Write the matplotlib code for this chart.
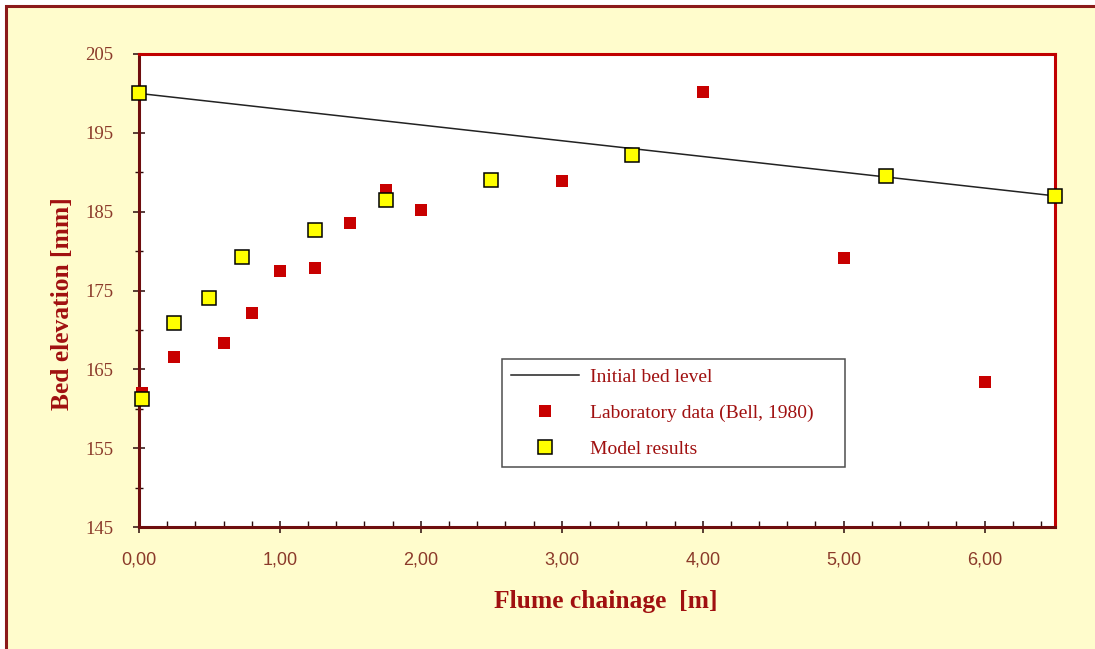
import matplotlib
matplotlib.use("Agg")
import matplotlib.pyplot as plt
from matplotlib.patches import Rectangle
from matplotlib.ticker import MultipleLocator, FixedLocator, FuncFormatter

# initial bed level (straight line along the flume)
bed_x = [0.0, 1.75, 3.5, 5.3, 6.5]
bed_y = [200.0, 196.5, 193.0, 189.4, 187.0]

# laboratory data (Bell, 1980)
lab_x = [0.02, 0.25, 0.6, 0.8, 1.0, 1.25, 1.5, 1.75, 2.0, 3.0, 4.0, 5.0, 6.0]
lab_y = [162.0, 166.6, 168.3, 172.1, 177.5, 177.9, 183.6, 187.7, 185.2, 188.9, 200.2, 179.1, 163.4]

# model results
mod_x = [0.0, 0.02, 0.25, 0.5, 0.73, 1.25, 1.75, 2.5, 3.5, 5.3, 6.5]
mod_y = [200.0, 161.3, 170.9, 174.0, 179.2, 182.7, 186.5, 189.0, 192.2, 189.5, 187.0]

y_ticks = [145, 155, 165, 175, 185, 195, 205]
y_minor = [150, 160, 170, 180, 190, 200]

red_txt = "#A01010"
tick_col = "#8B3A2A"
serif = ["Liberation Serif", "DejaVu Serif"]

fig = plt.figure(figsize=(10.95, 6.49), dpi=100, facecolor="white")
fig.add_artist(Rectangle((6 / 1095, -0.1), 1.2, 1.1 - 6 / 649, transform=fig.transFigure,
                         facecolor="#FFFCCC", edgecolor="#8B1A1A", linewidth=2.2, zorder=-10))

ax = fig.add_axes([139 / 1095, 1 - 527 / 649, 916 / 1095, 473 / 649])
ax.set_facecolor("white")

ax.plot(bed_x, bed_y, color="#222222", lw=1.1, label="Initial bed level", zorder=2)
ax.plot(lab_x, lab_y, ls="none", marker="s", ms=8.5, mfc="#C80000", mec="#C80000", mew=0,
        label="Laboratory data (Bell, 1980)", clip_on=False, zorder=3)
ax.plot(mod_x, mod_y, ls="none", marker="s", ms=9.5, mfc="#FFFF00", mec="black", mew=1.1,
        label="Model results", clip_on=False, zorder=4)

ax.set_xlim(0, 6.5)
ax.set_ylim(145, 205)
ax.xaxis.set_major_locator(MultipleLocator(1))
ax.xaxis.set_minor_locator(MultipleLocator(0.2))
ax.yaxis.set_major_locator(FixedLocator(y_ticks))
ax.yaxis.set_minor_locator(FixedLocator(y_minor))
ax.xaxis.set_major_formatter(FuncFormatter(lambda v, p: f"{v:.2f}".replace(".", ",")))
ax.yaxis.set_major_formatter(FuncFormatter(lambda v, p: f"{v:.0f}"))

for s in ["left", "bottom"]:
    ax.spines[s].set_color("#6E0E0E")
    ax.spines[s].set_linewidth(2.2)
for s in ["top", "right"]:
    ax.spines[s].set_color("#C00000")
    ax.spines[s].set_linewidth(2.2)

ax.tick_params(axis="both", which="major", direction="inout", length=9, width=1.1, color="#2A0A0A")
ax.tick_params(axis="x", which="minor", direction="in", length=4, width=1.0, color="#2A0A0A")
ax.tick_params(axis="y", which="minor", direction="inout", length=6, width=1.0, color="#2A0A0A")
ax.tick_params(axis="x", which="major", pad=13, labelsize=13, labelcolor=tick_col)
ax.tick_params(axis="y", which="major", pad=14, labelsize=13.5, labelcolor=tick_col)
for lab in ax.get_xticklabels():
    lab.set_family(["Liberation Sans", "DejaVu Sans"])
for lab in ax.get_yticklabels():
    lab.set_family(serif)

ax.set_xlabel("Flume chainage  [m]", family=serif, fontsize=18.4, fontweight="bold", color=red_txt)
ax.set_ylabel("Bed elevation [mm]", family=serif, fontsize=18.4, fontweight="bold", color=red_txt)
ax.xaxis.set_label_coords(0.51, -0.157)
ax.xaxis.label.set_va("center")
ax.yaxis.set_label_coords(-0.083, 0.4725)
ax.yaxis.label.set_va("center")

leg = ax.legend(loc="lower left", bbox_to_anchor=(0.3963, 0.1268, 0.3745, 0.2304), mode="expand",
                prop={"family": serif, "size": 14}, frameon=True, fancybox=False,
                edgecolor="#222222", handlelength=3.5, handletextpad=0.57, borderpad=0.47,
                labelspacing=0.94, borderaxespad=0)
leg.get_frame().set_linewidth(1.1)
for t in leg.get_texts():
    t.set_color(red_txt)

fig.savefig("out.png", dpi=100, facecolor=fig.get_facecolor())
